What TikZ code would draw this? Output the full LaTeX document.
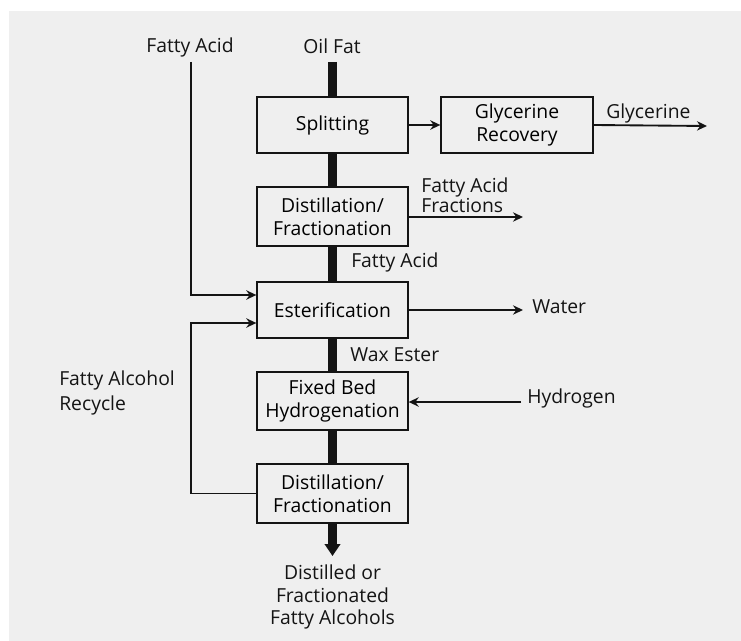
\documentclass[tikz,border=0pt]{standalone}
\usepackage{fontspec}
\setmainfont{Open Sans}
\usetikzlibrary{arrows.meta}
\definecolor{bg}{HTML}{EFEFEF}
\definecolor{ink}{HTML}{141414}
\newcommand{\lblfont}{\fontsize{14.5}{17.25}\selectfont}
\tikzset{
  px/.style={x=0.75pt,y=-0.75pt},
  procbox/.style={draw=ink,line width=1pt,fill=bg,minimum width=113.25pt,align=center,inner sep=0pt,font=\lblfont},
  lbl/.style={inner sep=0pt,font=\lblfont,text=ink},
  mainflow/.style={draw=ink,line width=6.75pt},
  flow/.style={draw=ink,line width=1.4pt,-{Stealth[length=7.5pt,width=7pt]}},
}
\begin{document}
\begin{tikzpicture}[px]
\useasboundingbox (0,0) rectangle (741,641);
\fill[white] (0,0) rectangle (741,641);
\fill[bg] (9,11) rectangle (741,641);
% boxes
\node[procbox,minimum height=42pt] (split) at (332.5,125) {Splitting};
\node[procbox,minimum height=42pt,minimum width=114pt] (glyc) at (517,125) {Glycerine\\Recovery};
\node[procbox,minimum height=44.25pt] (dist1) at (332.5,216.5) {Distillation/\\Fractionation};
\node[procbox,minimum height=42pt] (ester) at (332.5,310) {Esterification};
\node[procbox,minimum height=43.5pt] (hydro) at (332.5,401) {Fixed Bed\\Hydrogenation};
\node[procbox,minimum height=44.25pt] (dist2) at (332.5,493.5) {Distillation/\\Fractionation};
% labels
\node[lbl] (oilfat) at (332,46) {Oil Fat};
\node[lbl] (fa1) at (190,47) {Fatty Acid};
\coordinate (oiltop) at (332.5,62);
\coordinate (fatop) at (191,62);
\node[lbl,anchor=west] (glyclbl) at (606,113) {Glycerine};
\coordinate (glycend) at (707,126);
\node[lbl,anchor=west,align=left,font=\fontsize{14.5}{12.75}\selectfont] (fafrac) at (421,195) {Fatty Acid\\Fractions};
\coordinate (fafracend) at (523,217);
\node[lbl,anchor=west] (fa2) at (351,262) {Fatty Acid};
\node[lbl,anchor=west] (water) at (532,307) {Water};
\coordinate (waterend) at (523,310);
\node[lbl,anchor=west] (wax) at (350,355) {Wax Ester};
\node[lbl,anchor=west] (hydrogen) at (527,398) {Hydrogen};
\coordinate (hstart) at (521,402);
\node[lbl,anchor=west,align=left,font=\fontsize{14.5}{18.75}\selectfont] (recycle) at (59,393) {Fatty Alcohol\\Recycle};
\node[lbl,align=center,font=\fontsize{14.5}{17}\selectfont] (product) at (332.5,597) {Distilled or\\Fractionated\\Fatty Alcohols};
\coordinate (prodarrow) at (332.5,556);
\coordinate (recturn) at (191,323);
% main thick flow
\path[mainflow] (oiltop) -- (split.north);
\path[mainflow] (split.south) -- (dist1.north);
\path[mainflow] (dist1.south) -- (ester.north);
\path[mainflow] (ester.south) -- (hydro.north);
\path[mainflow] (hydro.south) -- (dist2.north);
\draw[ink,line width=6.75pt,-{Triangle[width=11.5pt,length=9pt]}] (dist2.south) -- (prodarrow);
% thin flows
\draw[flow] (split.east) -- (glyc.west);
\draw[flow] (glyc.east) -- (glycend);
\draw[flow] (dist1.east |- fafracend) -- (fafracend);
\draw[flow] (fatop) |- ([yshift=11.25pt]ester.west);
\draw[flow] (dist2.west) -| (recturn) -- (ester.west |- recturn);
\draw[flow] (ester.east) -- (waterend);
\draw[flow] (hstart) -- (hydro.east |- hstart);
\end{tikzpicture}
\end{document}
